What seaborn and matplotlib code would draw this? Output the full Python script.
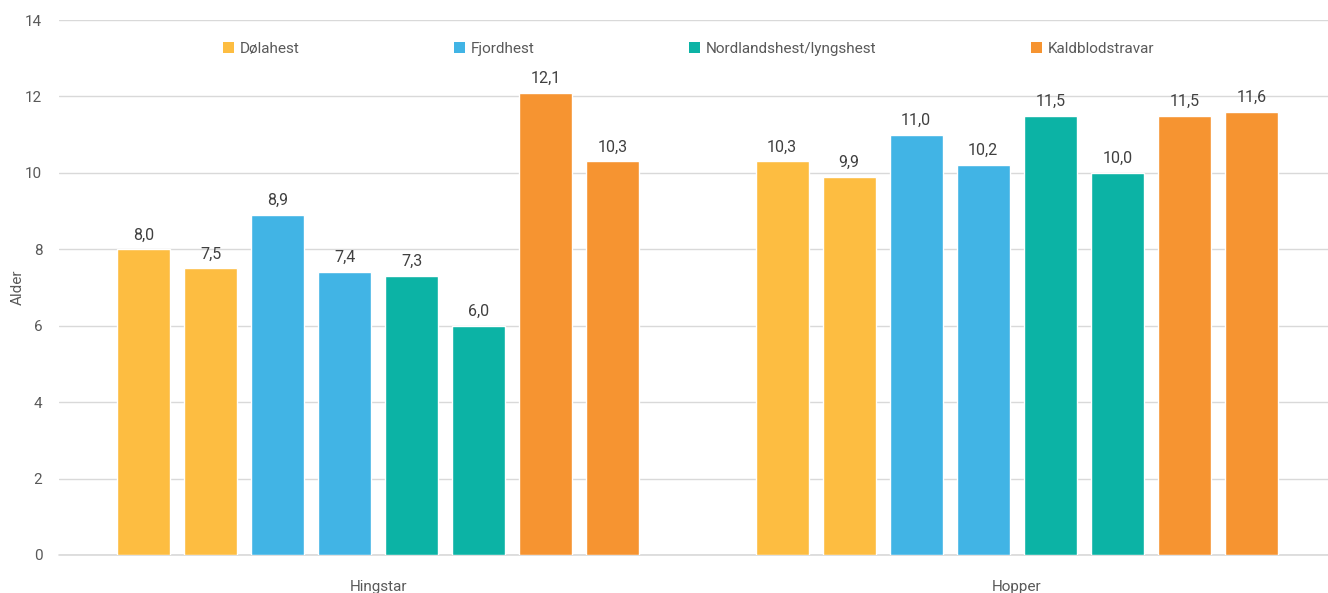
import pandas as pd
import seaborn as sns
import matplotlib.pyplot as plt
from matplotlib.patches import Patch

groups = ["Hingstar", "Hopper"]
breeds = ["Dølahest", "Fjordhest", "Nordlandshest/lyngshest", "Kaldblodstravar"]
colors = ["#FDBD41", "#41B4E5", "#0CB3A5", "#F69431"]

# two bars per breed in each group
hingstar = [8.0, 7.5, 8.9, 7.4, 7.3, 6.0, 12.1, 10.3]
hopper = [10.3, 9.9, 11.0, 10.2, 11.5, 10.0, 11.5, 11.6]

series = [b + "_" + s for b in breeds for s in ["a", "b"]]
palette = [c for c in colors for _ in range(2)]

rows = []
for grp, vals in zip(groups, [hingstar, hopper]):
    for ser, v in zip(series, vals):
        rows.append((grp, ser, v))
df = pd.DataFrame(rows, columns=["Gruppe", "Serie", "Alder"])

sns.set_style("white")
plt.rcParams["font.family"] = ["Roboto", "DejaVu Sans"]

fig = plt.figure(figsize=(13.28, 5.93), dpi=100)
ax = fig.add_axes([59 / 1328, 38 / 593, 1277 / 1328, 535 / 593])

sns.barplot(data=df, x="Gruppe", y="Alder", hue="Serie", hue_order=series,
            palette=palette, width=0.84, gap=0.21, saturation=1, ax=ax,
            legend=False, errorbar=None)

for cont in ax.containers:
    ax.bar_label(cont, labels=[f"{v:.1f}".replace(".", ",") for v in cont.datavalues],
                 padding=5, fontsize=11.5, color="#404040")

ax.set_ylim(0, 14)
ax.set_xlim(-0.5, 1.5)
ax.set_yticks(range(0, 15, 2))
ax.yaxis.grid(True, color="#d9d9d9", linewidth=1)
ax.axhline(0, color="#d9d9d9", linewidth=1.2, clip_on=False, zorder=0)
ax.set_axisbelow(True)
sns.despine(ax=ax, left=True, bottom=True, right=True, top=True)
ax.tick_params(axis="both", length=0, labelsize=11, colors="#595959")
ax.tick_params(axis="y", pad=12)
ax.tick_params(axis="x", pad=18)
ax.set_xlabel("")
ax.set_ylabel("Alder", fontsize=11, color="#595959", labelpad=0)

handles = [Patch(facecolor=c, edgecolor="none") for c in colors]
ax.legend(handles, breeds, loc="upper left", bbox_to_anchor=(0.118, 0.985),
          ncol=4, frameon=False, fontsize=11, handlelength=0.7, handleheight=0.7,
          handletextpad=0.4, columnspacing=10.1, labelcolor="#595959")

fig.savefig("out.png", dpi=100)
